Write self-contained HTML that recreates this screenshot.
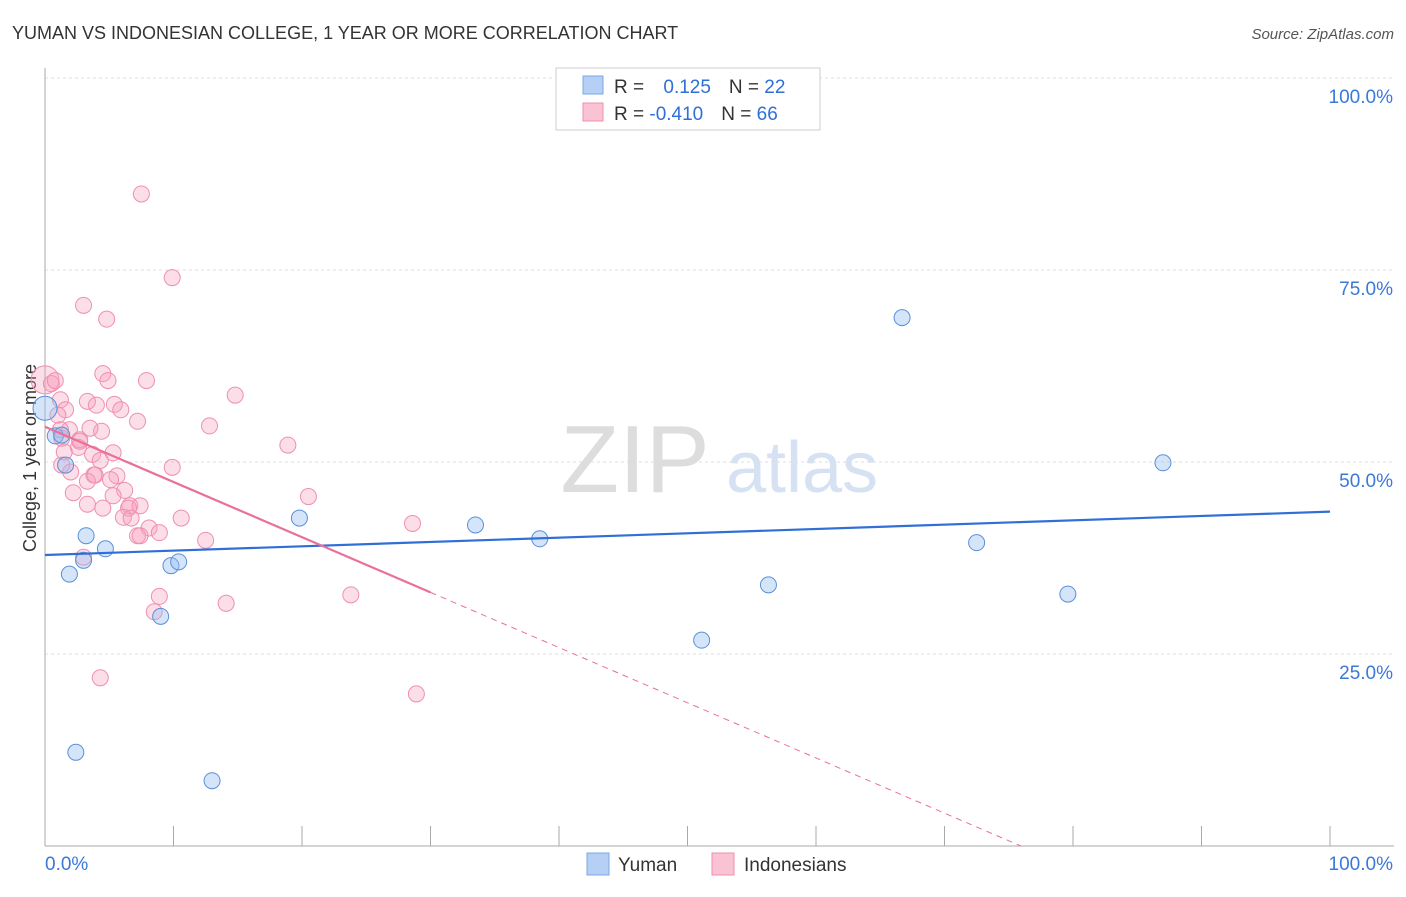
<!DOCTYPE html>
<html><head><meta charset="utf-8"><style>
body{margin:0;background:#fff;font-family:"Liberation Sans",sans-serif;}
svg text{font-family:"Liberation Sans",sans-serif;}
</style></head><body>
<svg id="c" width="1406" height="892" xmlns="http://www.w3.org/2000/svg">
<text x="12" y="39" font-size="18" fill="#333">YUMAN VS INDONESIAN COLLEGE, 1 YEAR OR MORE CORRELATION CHART</text>
<text x="1394" y="39" font-size="15" fill="#555" font-style="italic" text-anchor="end">Source: ZipAtlas.com</text>
<text x="36" y="458" font-size="18" fill="#333" text-anchor="middle" transform="rotate(-90 36 458)">College, 1 year or more</text>
<g id="grid"></g>
<text x="635" y="492" font-size="96" fill="#ddd" font-family="Liberation Serif" text-anchor="middle">ZIP</text>
<text x="802" y="492" font-size="72" fill="#d6e2f3" text-anchor="middle">atlas</text>
<g id="pts"></g>
<g id="lines"></g>
<rect x="556" y="68" width="264" height="62" fill="#fff" stroke="#ccc"/>
<rect x="583" y="76" width="20" height="18" fill="#b5cff5" stroke="#7aa7e6"/>
<rect x="583" y="103" width="20" height="18" fill="#f9c3d3" stroke="#f08fae"/>
<text x="614" y="93" font-size="19" fill="#333">R = <tspan fill="#2f6fd6" dx="14">0.125</tspan><tspan dx="18">N = </tspan><tspan fill="#2f6fd6">22</tspan></text>
<text x="614" y="120" font-size="19" fill="#333">R = <tspan fill="#2f6fd6">-0.410</tspan><tspan dx="18">N = </tspan><tspan fill="#2f6fd6">66</tspan></text>
<rect x="587" y="853" width="22" height="22" fill="#b5cff5" stroke="#7aa7e6"/>
<text x="618" y="871" font-size="19" fill="#333">Yuman</text>
<rect x="712" y="853" width="22" height="22" fill="#f9c3d3" stroke="#f08fae"/>
<text x="744" y="871" font-size="19" fill="#333">Indonesians</text>
</svg>
<script>
const yTicks=[25,50,75,100];
const yTickLabels=["25.0%","50.0%","75.0%","100.0%"];
const blueX=[0,0.8,1.6,1.9,2.4,3.2,3.0,4.7,9.0,9.8,10.4,13.0,19.8,33.5,38.5,51.1,56.3,66.7,72.5,79.6,87.0,1.3];
const blueY=[57.0,53.4,49.6,35.4,12.2,40.4,37.2,38.7,29.9,36.5,37.0,8.5,42.7,41.8,40.0,26.8,34.0,68.8,39.5,32.8,49.9,53.5];
const pinkX=[7.5,9.9,3.0,4.8,0,0.5,0.8,4.5,4.9,7.9,14.8,1.2,1.6,4.0,3.3,5.4,5.9,7.2,12.8,1.9,1.3,4.4,3.5,2.7,5.3,2.6,3.7,1.5,18.9,9.9,1.3,2.0,3.8,5.6,5.1,6.2,2.2,5.3,3.3,4.5,6.6,6.5,6.1,6.7,10.6,20.5,28.6,8.1,8.9,7.2,7.4,12.5,3.0,8.9,8.5,14.1,23.8,4.3,28.9,3.9,1.2,1.0,2.7,7.4,3.3,4.3];
const pinkY=[84.9,74.0,70.4,68.6,60.7,60.2,60.6,61.5,60.6,60.6,58.7,58.1,56.8,57.4,57.9,57.5,56.8,55.3,54.7,54.2,53.1,54.0,54.4,52.9,51.2,51.9,51.0,51.3,52.2,49.3,49.6,48.7,48.3,48.2,47.7,46.3,46.0,45.6,44.5,44.0,44.3,44.0,42.8,42.7,42.7,45.5,42.0,41.4,40.8,40.4,40.4,39.8,37.6,32.5,30.5,31.6,32.7,21.9,19.8,48.3,54.2,56.1,52.7,44.3,47.5,50.2];
const NS="http://www.w3.org/2000/svg";
const X0=45,X1=1330,Y0=846,Y100=78;
const sx=v=>X0+(X1-X0)*v/100, sy=v=>Y0-(Y0-Y100)*v/100;
function mk(t,a,p){const e=document.createElementNS(NS,t);for(const k in a)e.setAttribute(k,a[k]);p.appendChild(e);return e;}
const g=document.getElementById('grid');
yTicks.forEach((t,i)=>{
 const l=mk('line',{x1:X0,x2:1394,y1:sy(t),y2:sy(t),stroke:'#ddd','stroke-dasharray':'3,3'},g);
 
 
 const tx=mk('text',{x:1393,y:sy(t)+25,'font-size':19,fill:'#3b78d8','text-anchor':'end'},g);
 tx.textContent=yTickLabels[i];
 
 
});
const ax=mk('line',{x1:X0,x2:X0,y1:68,y2:846,stroke:'#aaa'},g);


const bx=mk('line',{x1:X0,x2:1394,y1:846,y2:846,stroke:'#aaa'},g);


for(let i=0;i<=10;i++){const t=mk('line',{x1:sx(i*10),x2:sx(i*10),y1:826,y2:846,stroke:'#aaa'},g);
 
 }
[["0.0%",45,'start'],["100.0%",1393,'end']].forEach(a=>{const t=mk('text',{x:a[1],y:870,'font-size':19,fill:'#3b78d8','text-anchor':a[2]},g);t.textContent=a[0];
 
 });
const P=document.getElementById('pts');
pinkX.forEach((x,i)=>{const c=mk('circle',{cx:sx(x),cy:sy(pinkY[i]),r:i==4?14:8,fill:'rgba(245,160,188,0.35)',stroke:'#f08fae','stroke-width':1},P);
 
 });
blueX.forEach((x,i)=>{const c=mk('circle',{cx:sx(x),cy:sy(blueY[i]),r:i==0?12:8,fill:'rgba(150,190,240,0.4)',stroke:'#5b8fd9','stroke-width':1},P);
 
 });
const L=document.getElementById('lines');
function fit(xs,ys){const n=xs.length,mx=xs.reduce((a,b)=>a+b)/n,my=ys.reduce((a,b)=>a+b)/n;let sxy=0,sxx=0;xs.forEach((x,i)=>{sxy+=(x-mx)*(ys[i]-my);sxx+=(x-mx)**2});const b=sxy/sxx;return [my-b*mx,b];}
const [ba,bb]=fit(blueX,blueY);
const bl=mk('line',{x1:sx(0),y1:sy(ba),x2:sx(100),y2:sy(ba+bb*100),stroke:'#2f6fd6','stroke-width':2.2},L);


const [pa,pb]=fit(pinkX,pinkY);
const xe=Math.min(100,-pa/pb);
const pl=mk('line',{x1:sx(0),y1:sy(pa),x2:sx(30),y2:sy(pa+pb*30),stroke:'#e8709a','stroke-width':2.2},L);


const pd=mk('line',{x1:sx(30),y1:sy(pa+pb*30),x2:sx(xe),y2:sy(pa+pb*xe),stroke:'#e8709a','stroke-width':1,'stroke-dasharray':'6,5'},L);


</script>
</body></html>
